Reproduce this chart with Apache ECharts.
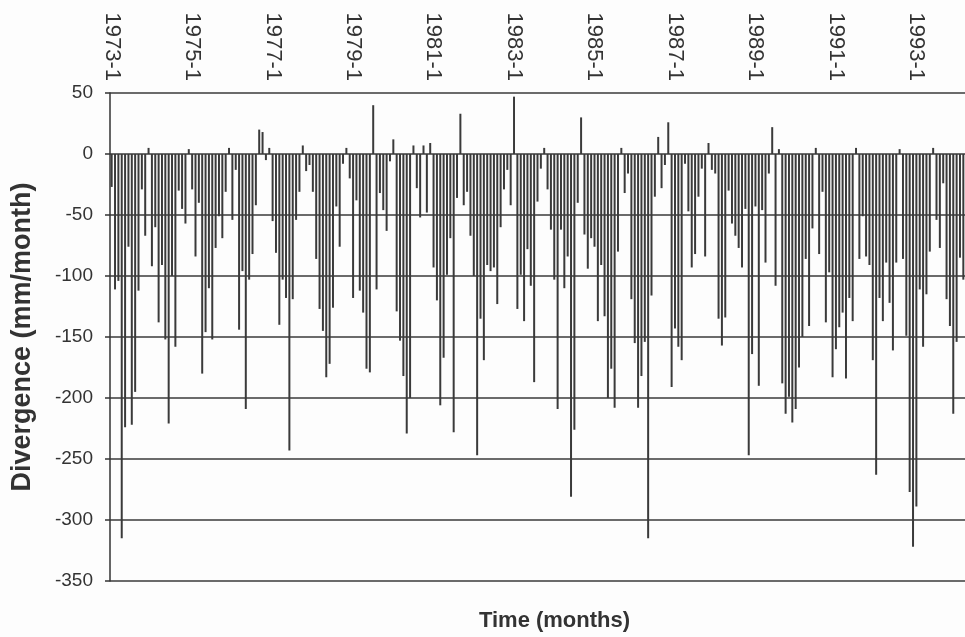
<!DOCTYPE html>
<html>
<head>
<meta charset="utf-8">
<script src="https://cdn.jsdelivr.net/npm/echarts@6/dist/echarts.min.js"></script>
<style>
  html, body { margin: 0; padding: 0; background: #fdfdfd; }
  #chart { width: 965px; height: 637px; }
</style>
</head>
<body>
<div id="chart"></div>
<script>
// monthly divergence (mm/month), one array per year
const v1973 = [-27, -111, -104, -315, -224, -76, -222, -195, -112, -29, -67, 5];
const v1974 = [-92, -60, -138, -91, -152, -221, -100, -158, -30, -45, -57, 4];
const v1975 = [-29, -84, -40, -180, -146, -110, -152, -77, -51, -69, -31, 5];
const v1976 = [-54, -13, -144, -96, -209, -103, -82, -42, 20, 18, -5, 5];
const v1977 = [-55, -81, -140, -103, -118, -243, -119, -54, -31, 7, -14, -9];
const v1978 = [-31, -86, -127, -145, -183, -172, -126, -43, -76, -8, 5, -20];
const v1979 = [-118, -38, -112, -130, -176, -179, 40, -111, -32, -46, -63, -6];
const v1980 = [12, -129, -153, -182, -229, -200, 7, -28, -52, 7, -48, 9];
const v1981 = [-93, -120, -206, -167, -99, -69, -228, -36, 33, -42, -31, -67];
const v1982 = [-100, -247, -135, -169, -91, -96, -93, -123, -60, -29, -13, -42];
const v1983 = [47, -127, -99, -137, -78, -108, -187, -39, -12, 5, -29, -62];
const v1984 = [-103, -209, -62, -110, -84, -281, -226, -40, 30, -66, -94, -69];
const v1985 = [-76, -137, -91, -133, -200, -176, -208, -80, 5, -32, -16, -119];
const v1986 = [-155, -208, -182, -154, -315, -116, -35, 14, -28, -9, 26, -191];
const v1987 = [-143, -158, -169, -8, -47, -93, -82, -35, -12, -84, 9, -13];
const v1988 = [-16, -135, -157, -134, -30, -57, -67, -77, -93, -45, -247, -164];
const v1989 = [-43, -190, -46, -89, -16, 22, -108, 4, -188, -213, -199, -220];
const v1990 = [-209, -175, -150, -86, -141, -61, 5, -82, -31, -138, -97, -183];
const v1991 = [-160, -142, -130, -184, -118, -137, 5, -86, -51, -84, -91, -169];
const v1992 = [-263, -118, -137, -89, -122, -161, -89, 4, -86, -149, -277, -322];
const v1993 = [-289, -111, -158, -115, -80, 5, -54, -77, -24, -119, -141, -213];
const v1994 = [-154, -85, -103];

const startYear = 1973;
const years = [v1973, v1974, v1975, v1976, v1977, v1978, v1979, v1980, v1981, v1982, v1983,
  v1984, v1985, v1986, v1987, v1988, v1989, v1990, v1991, v1992, v1993, v1994];

const months = [];
const divergence = [];
years.forEach((vals, i) => {
  vals.forEach((v, j) => {
    months.push((startYear + i) + "-" + (j + 1));
    divergence.push(v);
  });
});

const yMin = -350, yMax = 50, yStep = 50;
const labelEvery = 24;

const chart = echarts.init(document.getElementById("chart"));
const ink = "#333";
const font = "Liberation Sans, Arial, sans-serif";

chart.setOption({
  backgroundColor: "#fdfdfd",
  animation: false,
  grid: { left: 110, right: 0, top: 93, bottom: 54 },
  xAxis: [
    {
      type: "category",
      data: months,
      position: "top",
      axisLine: { show: false, onZero: false },
      axisTick: { show: false },
      axisLabel: {
        interval: labelEvery - 1,
        rotate: 90,
        margin: 12,
        color: ink,
        fontSize: 22,
        fontFamily: font,
      },
    },
    {
      // only carries the axis title under the plot
      type: "category",
      data: months,
      position: "bottom",
      axisLine: { show: false, onZero: false },
      axisTick: { show: false },
      axisLabel: { show: false },
      name: "Time (months)",
      nameLocation: "middle",
      nameGap: 29,
      nameTextStyle: {
        color: ink, fontSize: 22, fontWeight: "bold", fontFamily: font,
        padding: [0, 0, 0, 34],
      },
    },
  ],
  yAxis: {
    type: "value",
    min: yMin,
    max: yMax,
    interval: yStep,
    name: "Divergence (mm/month)",
    nameLocation: "middle",
    nameGap: 74,
    nameTextStyle: { color: ink, fontSize: 27, fontWeight: "bold", fontFamily: font },
    axisLine: { show: true, lineStyle: { color: ink, width: 1.5 } },
    axisTick: { show: true, length: 5, lineStyle: { color: ink, width: 1.5 } },
    axisLabel: { margin: 17, color: ink, fontSize: 19, fontFamily: font },
    splitLine: { show: true, lineStyle: { color: "#3a3a3a", width: 1.7 } },
  },
  series: [
    {
      type: "bar",
      data: divergence,
      barWidth: 2,
      itemStyle: { color: "#3a3a3a" },
    },
  ],
});
</script>
</body>
</html>
